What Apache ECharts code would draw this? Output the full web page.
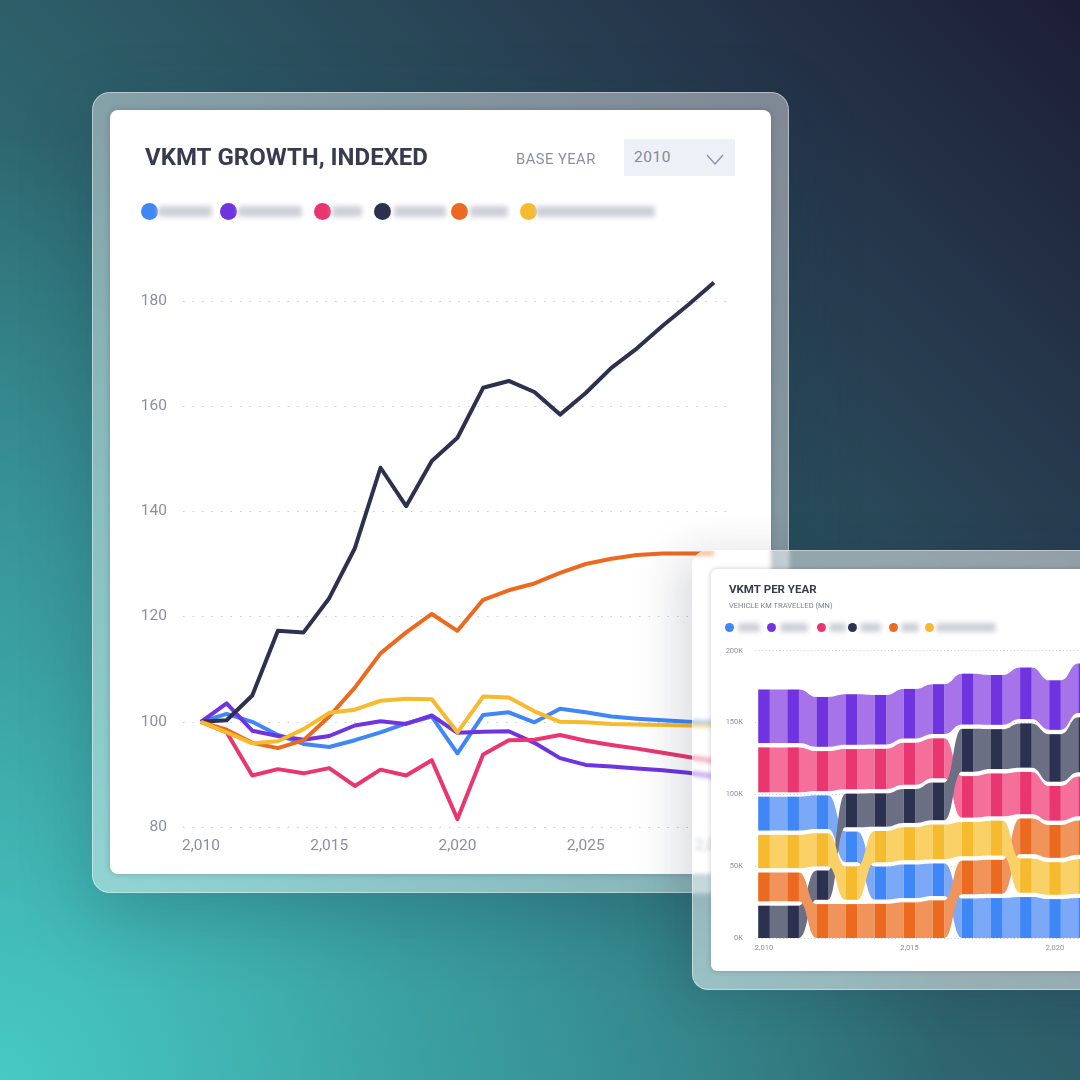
<!DOCTYPE html>
<html>
<head>
<meta charset="utf-8">
<script src="https://cdn.jsdelivr.net/npm/echarts@6/dist/echarts.min.js"></script>
<style>
html,body{margin:0;padding:0;width:1080px;height:1080px;overflow:hidden}
body{position:relative;font-family:Roboto,sans-serif;
  background:
    radial-gradient(circle at 0% 100%,rgba(72,204,198,.95) 0,rgba(62,170,170,.75) 28%,rgba(50,130,135,0) 62%),
    linear-gradient(225deg,#1c1d36 0%,#26394d 22%,#2d5f69 50%,#2f7a80 75%,#349a9c 100%)}
.glass{position:absolute;border:1px solid rgba(255,255,255,.42);background:rgba(255,255,255,.42);box-sizing:border-box}
.card{position:absolute;background:#fff;overflow:hidden}
#glassA{left:92px;top:92px;width:697px;height:801px;border-radius:18px;box-shadow:0 24px 70px rgba(20,50,70,.25)}
#cardA{left:110px;top:110px;width:661px;height:764px;border-radius:8px;box-shadow:0 0 6px rgba(30,40,60,.25)}
#glassB{left:692px;top:550px;width:460px;height:440px;border-radius:16px;backdrop-filter:blur(2px);
  background:rgba(255,255,255,.5);box-shadow:-14px 4px 46px rgba(30,40,60,.16)}
#cardB{left:711px;top:569px;width:440px;height:402px;border-radius:6px;box-shadow:0 0 5px rgba(30,40,60,.25)}
#chartA{position:absolute;left:0;top:0;width:661px;height:764px}
#chartB{position:absolute;left:0;top:0;width:470px;height:402px}
.base{position:absolute;left:406px;top:39px;font-size:15.5px;line-height:20px;color:#8c8fa3;letter-spacing:.5px;transform:scaleX(.95);transform-origin:left}
.pick{position:absolute;left:514px;top:29px;width:111px;height:37px;background:#eef0f8;color:#84879c;font-size:15.5px;line-height:37px;text-indent:10px;letter-spacing:.5px}
.pick svg{position:absolute;left:82px;top:15px}
.dot{position:absolute;border-radius:50%}
.smear{position:absolute;background:#cfcfd9;filter:blur(2.5px);border-radius:3px}
</style>
</head>
<body>
<div class="glass" id="glassA"></div>
<div class="card" id="cardA">
  <div id="chartA"></div>
  <div class="base">BASE YEAR</div>
  <div class="pick">2010<svg width="18" height="12"><path d="M1 1 L9 10 L17 1" fill="none" stroke="#8c8fa3" stroke-width="1.3"/></svg></div>
  <div id="legendA"></div>
</div>
<div class="glass" id="glassB"></div>
<div class="card" id="cardB">
  <div id="chartB"></div>
  <div id="legendB"></div>
</div>
<script>
// growth lines, index 2010 = 100
const growthYears = [2010,2011,2012,2013,2014,2015,2016,2017,2018,2019,2020,2021,2022,2023,2024,2025,2026,2027,2028,2029,2030];
const growthBlue = [100,101.5,100,97.5,95.8,95.2,96.5,98,99.7,101,94,101.3,101.8,99.9,102.5,101.8,101,100.6,100.3,100,99.8];
const growthPurple = [100,103.5,98.3,97.3,96.6,97.3,99.3,100.1,99.6,101.2,97.9,98.1,98.2,96,93.1,91.8,91.5,91.1,90.8,90.3,89.6];
const growthPink = [100,98,89.8,91,90.2,91.2,87.8,90.9,89.8,92.7,81.5,93.8,96.5,96.6,97.5,96.4,95.6,94.9,94.1,93.3,92.5];
const growthDark = [100,100.3,105,117.3,117,123.5,133,148.3,141,149.6,154,163.5,164.8,162.7,158.4,162.5,167.3,171,175.3,179.3,183.5];
const growthOrange = [100,98.5,96,95,96.5,101,106.5,113,117,120.5,117.3,123.2,125,126.3,128.3,130,131,131.7,132,132,132];
const growthYellow = [100,98,95.9,96.3,98.6,101.7,102.3,104,104.4,104.3,98,104.8,104.6,102,100,99.9,99.6,99.5,99.4,99.3,99.3];

// vkmt per year in thousands, and the stacking rank of each band (0 = bottom)
const ribbonYears = [2010,2011,2012,2013,2014,2015,2016,2017,2018,2019,2020,2021];
const vkmtBlue = [26.6,26.6,26.4,24.3,25.9,26.4,25.7,27.5,27.8,28.5,27.1,27.8];
const vkmtPurple = [40.3,40.3,37.7,38.2,37.5,37.5,37.7,38.4,37.7,38.9,37.5,37.5];
const vkmtPink = [34.3,34.3,30.8,31,31,32.2,30.8,31.9,32.9,32.4,27.1,30.6];
const vkmtDark = [22.5,22.5,23.4,26.4,26.2,26.6,29.2,32.9,30.8,33.8,36.1,41.2];
const vkmtOrange = [23.1,23.1,23.6,23.6,23.8,24.8,26.2,26.4,26.6,27.8,25.9,26.9];
const vkmtYellow = [26.2,26.2,25.9,26.2,24.8,25.9,27.1,26.9,27.3,26.9,25.7,27.1];
const rankBlue = [3,3,3,2,1,1,1,0,0,0,0,0];
const rankPurple = [5,5,5,5,5,5,5,5,5,5,5,5];
const rankPink = [4,4,4,4,4,4,4,3,3,3,3,3];
const rankDark = [0,0,1,3,3,3,3,4,4,4,4,4];
const rankOrange = [1,1,0,0,0,0,0,1,1,2,2,2];
const rankYellow = [2,2,2,1,2,2,2,2,2,1,1,1];
const vkmtTotals = [173,173,168,170,169,173,177,184,183,188,180,191];

const colors = ['#3f86f6','#6f34e0','#ea3670','#2d3150','#ec6a1f','#f6ba2e'];
const ribbonColors = ['#7ba9f8','#a673e8','#f4709a','#6b6f83','#f0945b','#fad166'];
const textColor = '#8b8ea2';
const fontName = 'Roboto';

function addLegend(holder, dots, smears, y, size, smearH) {
  let html = '';
  dots.forEach(function (x, i) {
    html += '<div class="dot" style="left:' + (x - size / 2) + 'px;top:' + (y - size / 2) + 'px;width:' + size + 'px;height:' + size + 'px;background:' + colors[i] + '"></div>';
    html += '<div class="smear" style="left:' + smears[i][0] + 'px;top:' + (y - smearH / 2) + 'px;width:' + (smears[i][1] - smears[i][0]) + 'px;height:' + smearH + 'px"></div>';
  });
  document.getElementById(holder).innerHTML = html;
}
addLegend('legendA', [39,118,212,272,349,418], [[48,102],[128,192],[222,252],[284,336],[360,398],[426,545]], 101, 17, 11);
addLegend('legendB', [18,60,110,141,182,218], [[27,49],[69,97],[118,135],[149,170],[190,208],[225,285]], 58, 9, 9);

function lineSeries(name, values, i) {
  return {
    name: name, type: 'line', symbol: 'none', clip: false,
    data: values.map(function (v, k) { return [growthYears[k], v]; }),
    lineStyle: {color: colors[i], width: 4, join: 'round'},
    itemStyle: {color: colors[i]}
  };
}

let chartA = echarts.init(document.getElementById('chartA'));
chartA.setOption({
  animation: false,
  title: {text: 'VKMT GROWTH, INDEXED', left: 30, top: 32, textStyle: {color: '#383b50', fontFamily: fontName, fontSize: 24, fontWeight: 700}},
  grid: {left: 73, right: 41, top: 191, bottom: 47},
  xAxis: {
    type: 'value', min: 2009.3, max: 2030.625,
    axisLine: {show: false}, axisTick: {show: false}, splitLine: {show: false},
    axisLabel: {customValues: [2010,2015,2020,2025,2030], formatter: '{value}', color: textColor, fontFamily: fontName, fontSize: 15.5, margin: 11}
  },
  yAxis: {
    type: 'value', min: 80, max: 180, interval: 20,
    axisLine: {show: false}, axisTick: {show: false},
    splitLine: {lineStyle: {color: '#c8cad4', type: [1.5, 8], width: 1}},
    axisLabel: {color: textColor, fontFamily: fontName, fontSize: 15.5, margin: 16}
  },
  series: [
    lineSeries('Blue', growthBlue, 0),
    lineSeries('Purple', growthPurple, 1),
    lineSeries('Pink', growthPink, 2),
    lineSeries('Dark', growthDark, 3),
    lineSeries('Orange', growthOrange, 4),
    lineSeries('Yellow', growthYellow, 5)
  ]
});

// stack the bands by rank for each year
const allValues = [vkmtBlue, vkmtPurple, vkmtPink, vkmtDark, vkmtOrange, vkmtYellow];
const allRanks = [rankBlue, rankPurple, rankPink, rankDark, rankOrange, rankYellow];
function bandOf(c, y) {
  let lo = 0;
  for (let o = 0; o < allValues.length; o++) {
    if (allRanks[o][y] < allRanks[c][y]) lo += allValues[o][y];
  }
  return [lo, lo + allValues[c][y], allRanks[c][y]];
}

const bandGap = 3;
const halfBar = 0.2;

function ribbonSeries(c) {
  let rows = ribbonYears.map(function (year, y) {
    let a = bandOf(c, y);
    let b = y < ribbonYears.length - 1 ? bandOf(c, y + 1) : a;
    return [year, a[0] + (a[2] > 0 ? bandGap : 0), a[1], b[0] + (b[2] > 0 ? bandGap : 0), b[1], y < ribbonYears.length - 1 ? 1 : 0];
  });
  return {
    type: 'custom', data: rows, encode: {x: 0, y: 2}, silent: true,
    renderItem: function (params, api) {
      let year = api.value(0);
      let barA = api.coord([year - halfBar, api.value(2)]);
      let barB = api.coord([year + halfBar, api.value(1)]);
      let kids = [{
        type: 'rect',
        shape: {x: barA[0], y: barA[1], width: barB[0] - barA[0], height: barB[1] - barA[1]},
        style: {fill: colors[c]}
      }];
      if (api.value(5)) {
        let p1 = api.coord([year + halfBar, api.value(2)]);
        let p2 = api.coord([year + 1 - halfBar, api.value(4)]);
        let p3 = api.coord([year + 1 - halfBar, api.value(3)]);
        let p4 = api.coord([year + halfBar, api.value(1)]);
        let mid = (p1[0] + p2[0]) / 2;
        let d = 'M' + p1[0] + ' ' + p1[1] +
          'C' + mid + ' ' + p1[1] + ' ' + mid + ' ' + p2[1] + ' ' + p2[0] + ' ' + p2[1] +
          'L' + p3[0] + ' ' + p3[1] +
          'C' + mid + ' ' + p3[1] + ' ' + mid + ' ' + p4[1] + ' ' + p4[0] + ' ' + p4[1] + 'Z';
        kids.unshift({type: 'path', shape: {pathData: d}, style: {fill: ribbonColors[c]}});
      }
      return {type: 'group', children: kids};
    }
  };
}

let chartB = echarts.init(document.getElementById('chartB'));
chartB.setOption({
  animation: false,
  title: {
    text: 'VKMT PER YEAR', subtext: 'VEHICLE KM TRAVELLED (MN)', left: 13, top: 10, itemGap: 6,
    textStyle: {color: '#383b50', fontFamily: fontName, fontSize: 11.5, fontWeight: 700},
    subtextStyle: {color: '#7d8093', fontFamily: fontName, fontSize: 7.5}
  },
  grid: {left: 44, right: 0, top: 81.7, bottom: 33},
  xAxis: {
    type: 'value', min: 2009.69, max: 2024.33,
    axisLine: {show: false}, axisTick: {show: false}, splitLine: {show: false},
    axisLabel: {customValues: [2010,2015,2020], formatter: '{value}', color: textColor, fontFamily: fontName, fontSize: 7.5, margin: 6}
  },
  yAxis: {
    type: 'value', min: 0, max: 200, interval: 50,
    axisLine: {show: false}, axisTick: {show: false},
    splitLine: {lineStyle: {color: '#c8cad4', type: [1, 2.5], width: 1}},
    axisLabel: {formatter: '{value}K', color: textColor, fontFamily: fontName, fontSize: 7.5, margin: 12}
  },
  series: [0, 1, 2, 3, 4, 5].map(ribbonSeries).concat([{
    type: 'line', symbol: 'none', silent: true, clip: false,
    lineStyle: {opacity: 0},
    data: vkmtTotals.map(function (v, k) { return [ribbonYears[k], v]; }),
    label: {
      show: true, position: 'top', distance: 5,
      formatter: function (p) { return p.value[1] + 'K'; },
      color: '#a2a4b2', fontFamily: fontName, fontSize: 7.5
    }
  }])
});
</script>
</body>
</html>
